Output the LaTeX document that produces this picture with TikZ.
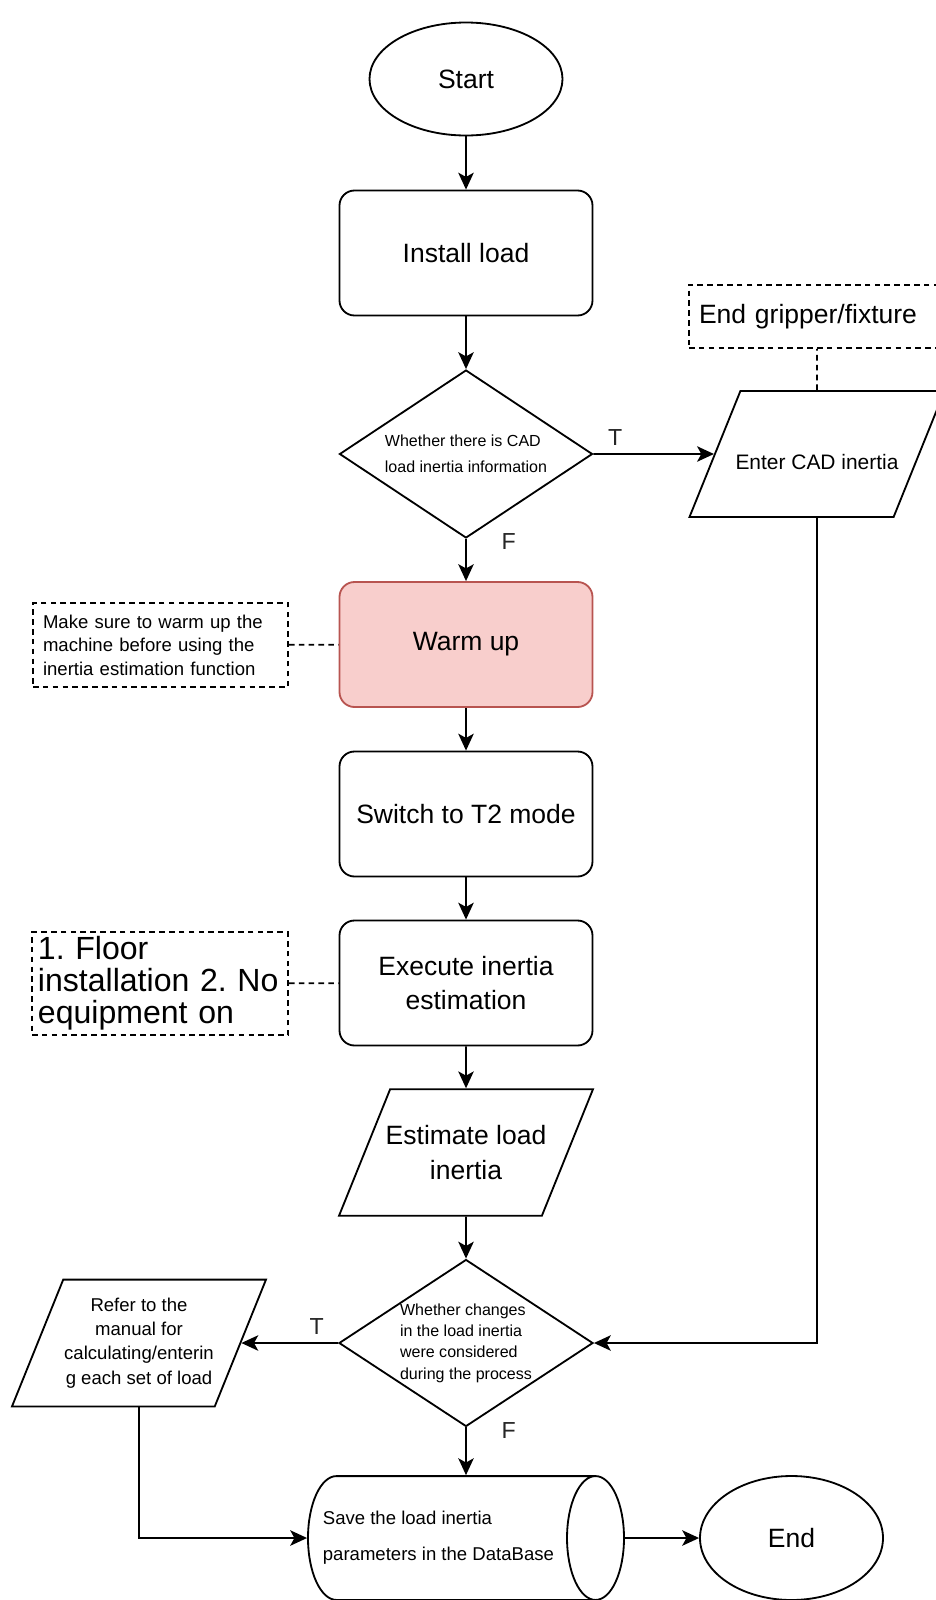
\documentclass[tikz,border=0pt]{standalone}
\usepackage{fontspec}
\setmainfont{Liberation Sans}
\usetikzlibrary{shapes.geometric,arrows.meta,positioning}
\pgfdeclarelayer{edgelayer}
\pgfdeclarelayer{nodelayer}
\pgfsetlayers{edgelayer,nodelayer,main}
\definecolor{warmfill}{HTML}{F8CECC}
\definecolor{warmdraw}{HTML}{B85450}
\tikzstyle{edge}=[draw=black, line width=1.3pt, -{Stealth[length=12pt, width=11pt, inset=3pt]}]
\tikzstyle{dashed edge}=[draw=black, line width=1.3pt, dash pattern=on 4pt off 3pt]
\tikzstyle{edge label}=[font=\fontsize{16.5}{16.5}\selectfont, text=black!85]
\tikzstyle{terminal}=[ellipse, fill=white, draw=black, line width=1.3pt, inner sep=0pt, font=\fontsize{18.85}{24}\selectfont]
\tikzstyle{process}=[rectangle, rounded corners=0.375cm, fill=white, draw=black, line width=1.3pt, minimum width=6.325cm, minimum height=3.125cm, align=center, font=\fontsize{18.85}{24.2}\selectfont]
\tikzstyle{warm process}=[style=process, fill=warmfill, draw=warmdraw]
\tikzstyle{decision}=[diamond, aspect=1.5, fill=white, draw=black, line width=1.3pt, minimum width=6.325cm, minimum height=4.2cm, inner sep=0pt, align=left]
\tikzstyle{io}=[trapezium, trapezium left angle=68, trapezium right angle=112, trapezium stretches body, fill=white, draw=black, line width=1.3pt, minimum width=6.35cm, inner xsep=0pt, align=center]
\tikzstyle{note}=[rectangle, fill=white, draw=black, line width=1.3pt, dash pattern=on 4pt off 3pt, inner ysep=0pt, align=left]
\tikzstyle{store}=[cylinder, aspect=0.46, fill=white, draw=black, line width=1.3pt, minimum height=7.9cm, inner xsep=0pt, inner ysep=25.2pt, align=left, font=\fontsize{13.2}{25.4}\selectfont]

\begin{document}
\frenchspacing
\begin{tikzpicture}
			\useasboundingbox (0, 0) rectangle (23.375, -40);
			\begin{pgfonlayer}{nodelayer}
			\node [style=terminal, minimum width=4.825cm, minimum height=2.825cm] (0) at (11.65, -1.975) {Start};
			\node [style=process] (1) at (11.65, -6.325) {Install load};
			\node [style=decision, font=\fontsize{11.4}{18.85}\selectfont] (2) at (11.65, -11.35) {Whether there is CAD\\load inertia information};
			\node [style=io, inner xsep=-0.2cm, inner ysep=33.6pt, text height=22.4pt, text depth=0pt, minimum width=6.375cm, font=\fontsize{14.9}{18}\selectfont] (3) at (20.425, -11.35) {Enter CAD inertia};
			\node [style=note, text width=5.9cm, inner xsep=0.25cm, minimum height=1.575cm, font=\fontsize{18.85}{22}\selectfont] (4) at (20.425, -7.9125) {End gripper/fixture};
			\node [style=warm process] (5) at (11.65, -16.1125) {Warm up};
			\node [style=note, text width=5.875cm, inner xsep=0.25cm, minimum height=2.1cm, font=\fontsize{13.2}{16.7}\selectfont] (6) at (4.0125, -16.125) {Make sure to warm up the\\machine before using the\\inertia estimation function};
			\node [style=process] (7) at (11.65, -20.35) {Switch to T2 mode};
			\node [style=process] (8) at (11.65, -24.575) {Execute inertia\\estimation};
			\node [style=note, text width=6.1cm, inner xsep=0.15cm, minimum height=2.575cm, font=\fontsize{22.8}{22.8}\selectfont] (9) at (4.0, -24.5875) {1. Floor\\installation 2. No\\equipment on};
			\node [style=io, inner xsep=-0.2cm, inner ysep=25.75pt, font=\fontsize{18.85}{24.7}\selectfont] (10) at (11.65, -28.8125) {Estimate load\\inertia};
			\node [style=decision, minimum width=6.35cm, minimum height=4.175cm, font=\fontsize{11.4}{15.2}\selectfont] (11) at (11.65, -33.575) {Whether changes\\in the load inertia\\were considered\\during the process};
			\node [style=io, inner ysep=13.15pt, font=\fontsize{13.2}{17.2}\selectfont] (12) at (3.475, -33.575) {Refer to the\\manual for\\calculating/enterin\\g each set of load};
			\node [style=store, anchor=shape center] (13) at (11.65, -38.45) {Save the load inertia\\parameters in the DataBase};
			\node [style=terminal, minimum width=4.575cm, minimum height=3.1cm] (14) at (19.7875, -38.45) {End};
			\end{pgfonlayer}
			\begin{pgfonlayer}{edgelayer}
			\draw [style=edge] (0) to (1);
			\draw [style=edge] (1) to (2);
			\draw [style=edge] (2) to node [style=edge label, pos=0.18, above=2pt] {T} (3);
			\draw [style=edge] (2) to node [style=edge label, pos=0.05, right=0.75cm] {F} (5);
			\draw [style=dashed edge] (3) to (4);
			\draw [style=dashed edge] (6) to (5);
			\draw [style=edge] (5) to (7);
			\draw [style=edge] (7) to (8);
			\draw [style=dashed edge] (9) to (8);
			\draw [style=edge] (8) to (10);
			\draw [style=edge] (10) to (11);
			\draw [style=edge] (11) to node [style=edge label, pos=0.22, above=2pt] {T} (12);
			\draw [style=edge] (11.south) to node [style=edge label, pos=0.06, right=0.75cm] {F} (11.south |- 13.north);
			\draw [style=edge] (3) |- (11);
			\draw [style=edge] (12) |- (13);
			\draw [style=edge] (13) to (14);
			\end{pgfonlayer}
\end{tikzpicture}
\end{document}
